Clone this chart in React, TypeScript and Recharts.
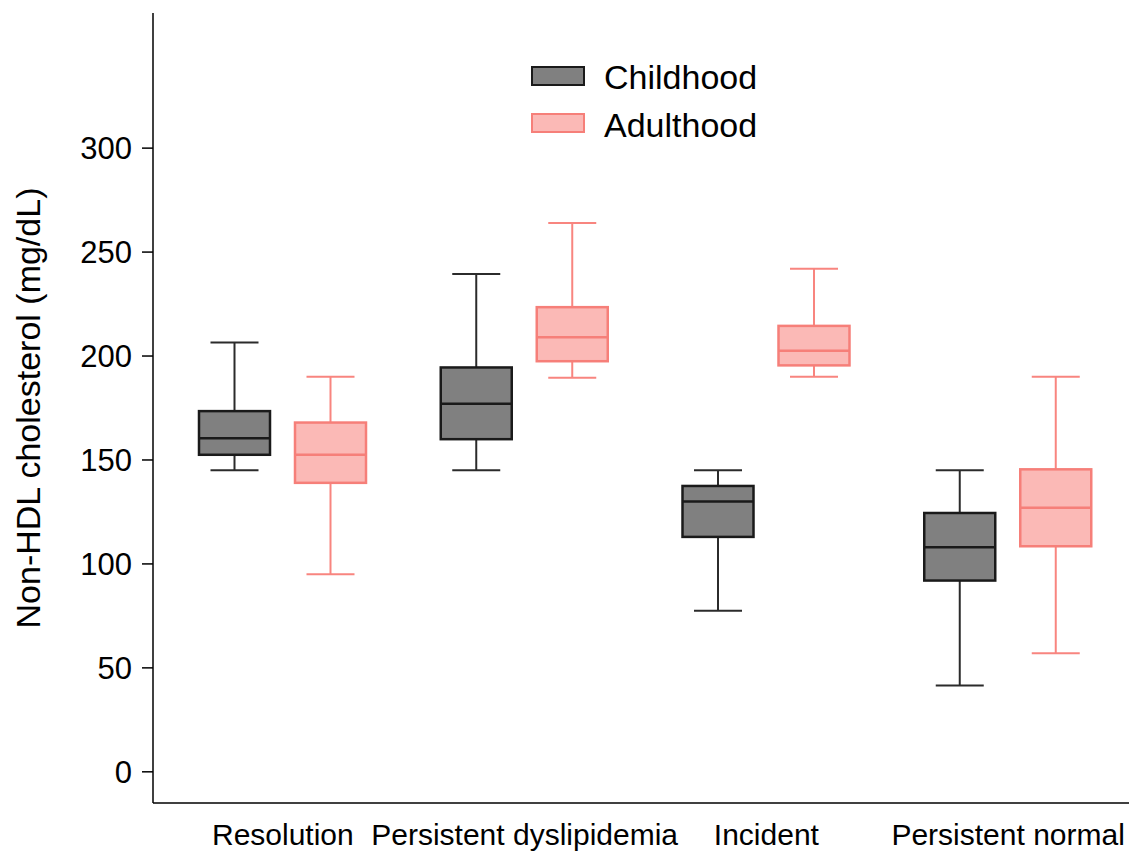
import { BarChart, Bar, XAxis, YAxis } from 'recharts'

const categories = ['Resolution', 'Persistent dyslipidemia', 'Incident', 'Persistent normal']

const childMin = [145, 145, 77.5, 41.5]
const childQ1 = [152.5, 160, 113, 92]
const childMedian = [160.5, 177, 130, 108]
const childQ3 = [173.5, 194.5, 137.5, 124.5]
const childMax = [206.5, 239.5, 145, 145]

const adultMin = [95, 189.5, 190, 57]
const adultQ1 = [139, 197.5, 195.5, 108.5]
const adultMedian = [152.5, 209, 202.5, 127]
const adultQ3 = [168, 223.5, 214.5, 145.5]
const adultMax = [190, 264, 242, 190]

const yTicks = [0, 50, 100, 150, 200, 250, 300]

type Stats = { min: number; q1: number; med: number; q3: number; max: number }

const data = categories.map((name, i) => ({
  name,
  child: { min: childMin[i], q1: childQ1[i], med: childMedian[i], q3: childQ3[i], max: childMax[i] },
  adult: { min: adultMin[i], q1: adultQ1[i], med: adultMedian[i], q3: adultQ3[i], max: adultMax[i] },
}))

const FONT = '"Liberation Sans", Arial, sans-serif'

const STYLE = {
  child: { fill: '#808080', stroke: '#1a1a1a', whisker: '#2b2b2b' },
  adult: { fill: '#fbb9b6', stroke: '#f67f79', whisker: '#f8857f' },
}

const boxShape = (group: 'child' | 'adult') => (props: any) => {
  const { x, y, width, height, payload } = props
  const s: Stats = payload[group]
  const top = Math.min(y, y + height)
  const bottom = Math.max(y, y + height)
  // bar spans min..max, map the other stats linearly inside it
  const py = (v: number) => bottom - ((v - s.min) / (s.max - s.min)) * (bottom - top)
  const cx = x + width / 2
  const cap = 24
  const c = STYLE[group]
  return (
    <g>
      <line x1={cx} x2={cx} y1={py(s.max)} y2={py(s.q3)} stroke={c.whisker} strokeWidth={2} />
      <line x1={cx} x2={cx} y1={py(s.q1)} y2={py(s.min)} stroke={c.whisker} strokeWidth={2} />
      <line x1={cx - cap} x2={cx + cap} y1={py(s.max)} y2={py(s.max)} stroke={c.whisker} strokeWidth={2} />
      <line x1={cx - cap} x2={cx + cap} y1={py(s.min)} y2={py(s.min)} stroke={c.whisker} strokeWidth={2} />
      <rect x={x} y={py(s.q3)} width={width} height={py(s.q1) - py(s.q3)} fill={c.fill} stroke={c.stroke} strokeWidth={2.5} />
      <line x1={x} x2={x + width} y1={py(s.med)} y2={py(s.med)} stroke={c.stroke} strokeWidth={2.5} />
    </g>
  )
}

const YTitle = (props: any) => {
  const { viewBox } = props
  const cy = viewBox.y + viewBox.height / 2
  return (
    <text x={40} y={cy} transform={`rotate(-90, 40, ${cy})`} textAnchor="middle"
      fontSize={34} fontFamily={FONT} fill="#000">
      Non-HDL cholesterol (mg/dL)
    </text>
  )
}

function BoxLegend() {
  return (
    <svg width={300} height={130} style={{ position: 'absolute', left: 530, top: 30 }}>
      <rect x={2} y={37} width={52} height={18} fill={STYLE.child.fill} stroke={STYLE.child.stroke} strokeWidth={2} />
      <text x={74} y={59} fontSize={34} fontFamily={FONT} fill="#000">Childhood</text>
      <rect x={2} y={84} width={52} height={18} fill={STYLE.adult.fill} stroke={STYLE.adult.stroke} strokeWidth={2} />
      <text x={74} y={107} fontSize={34} fontFamily={FONT} fill="#000">Adulthood</text>
    </svg>
  )
}

export default function App() {
  return (
    <div style={{ position: 'absolute', left: 0, top: 0, width: 1129, height: 851, background: '#fff' }}>
      <BarChart width={1129} height={851} data={data} barGap={25}
        margin={{ top: 13, right: 0, bottom: 18, left: 0 }}>
        <XAxis dataKey="name" padding={{ left: 9, right: 0 }} tickLine={false} height={30}
          axisLine={{ stroke: '#000', strokeWidth: 1.5 }} tickMargin={15} interval={0}
          tick={{ fontSize: 30, fontFamily: FONT, fill: '#000' }} />
        <YAxis type="number" domain={[-15, 365]} ticks={yTicks} width={153} tickSize={11} tickMargin={10}
          axisLine={{ stroke: '#000', strokeWidth: 1.5 }} tickLine={{ stroke: '#000', strokeWidth: 1.5 }}
          tick={{ fontSize: 31, fontFamily: FONT, fill: '#000' }} label={<YTitle />} />
        <Bar name="Childhood" dataKey={(d: any) => [d.child.min, d.child.max]} barSize={71}
          shape={boxShape('child')} isAnimationActive={false} />
        <Bar name="Adulthood" dataKey={(d: any) => [d.adult.min, d.adult.max]} barSize={71}
          shape={boxShape('adult')} isAnimationActive={false} />
      </BarChart>
      <BoxLegend />
    </div>
  )
}
